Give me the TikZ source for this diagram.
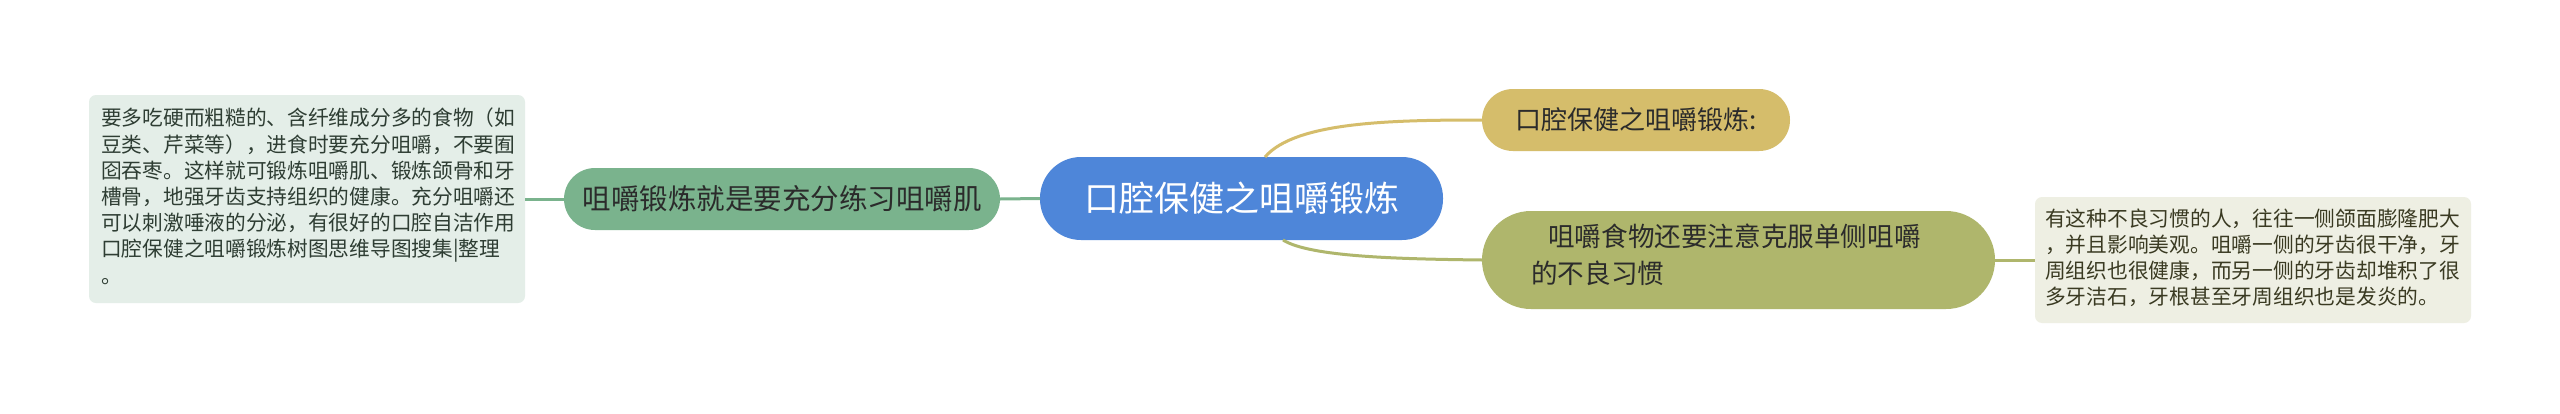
\documentclass[tikz,border=0pt]{standalone}
\usepackage{fontspec}
\setmainfont{Noto Sans CJK SC}
\definecolor{cblue}{HTML}{4E86D9}
\definecolor{cgold}{HTML}{D5BD6B}
\definecolor{colive}{HTML}{AFB66C}
\definecolor{cgreen}{HTML}{7AB38D}
\definecolor{cleft}{HTML}{E4EEE8}
\definecolor{cright}{HTML}{EEEFE3}
\definecolor{ctext}{HTML}{2B2B2B}
\definecolor{cltext}{HTML}{2E3D33}
\definecolor{crtext}{HTML}{3A3A22}
\tikzset{
  pill/.style={rounded corners=#1, inner sep=0pt, outer sep=0pt, text=ctext},
  notebox/.style={rounded corners=7pt, inner sep=0pt, outer sep=0pt, align=left, anchor=north west},
  link/.style={line width=3pt}
}
\begin{document}
\begin{tikzpicture}[x=1pt,y=-1pt]
\useasboundingbox (0,0) rectangle (2560,413);
\fill[white] (0,0) rectangle (2560,413);
% central
\node[pill=41pt, fill=cblue, text=white, minimum width=403pt, minimum height=83pt, font=\fontsize{35}{40}\selectfont] (c) at (1241.5,198.5) {口腔保健之咀嚼锻炼};
% top right
\node[pill=31pt, fill=cgold, minimum width=308pt, minimum height=62pt, font=\fontsize{26}{30}\selectfont] (t) at (1636,120) {口腔保健之咀嚼锻炼:};
% bottom right
\node[pill=49pt, fill=colive, minimum width=513pt, minimum height=98pt] (b) at (1738.5,260) {};
\node[anchor=north west, inner sep=0pt, align=left, text=ctext, font=\fontsize{26.6}{37}\selectfont] (bt) at (1531,224) {\hspace*{17pt}咀嚼食物还要注意克服单侧咀嚼\\的不良习惯};
% left green
\node[pill=31pt, fill=cgreen, minimum width=436pt, minimum height=62pt, font=\fontsize{28.5}{32}\selectfont] (g) at (782,199) {咀嚼锻炼就是要充分练习咀嚼肌};
% left note
\node[notebox, fill=cleft, minimum width=436pt, minimum height=208pt] (ln) at (89,95) {};
\node[anchor=north west, inner sep=0pt, align=left, text=cltext, font=\fontsize{20.7}{26.2}\selectfont] (lt) at (101,108) {要多吃硬而粗糙的、含纤维成分多的食物（如\\豆类、芹菜等），进食时要充分咀嚼，不要囿\\囵吞枣。这样就可锻炼咀嚼肌、锻炼颌骨和牙\\槽骨，地强牙齿支持组织的健康。充分咀嚼还\\可以刺激唾液的分泌，有很好的口腔自洁作用\\口腔保健之咀嚼锻炼树图思维导图搜集|整理\\。};
% right note
\node[notebox, fill=cright, minimum width=436pt, minimum height=126pt] (rn) at (2035,197) {};
\node[anchor=north west, inner sep=0pt, align=left, text=crtext, font=\fontsize{20.75}{26}\selectfont] (rt) at (2045,209) {有这种不良习惯的人，往往一侧颌面膨隆肥大\\，并且影响美观。咀嚼一侧的牙齿很干净，牙\\周组织也很健康，而另一侧的牙齿却堆积了很\\多牙洁石，牙根甚至牙周组织也是发炎的。};
% connectors
\draw[link, cgreen] (c.west) -- (g.east);
\draw[link, cgreen] (g.west) -- (ln.east |- g.west);
\draw[link, colive] (b.east) -- (rn.west |- b.east);
\draw[link, cgold] ([xshift=23.5pt]c.north) .. controls (1295,122) and (1390,120) .. (t.west);
\draw[link, colive] ([xshift=41.5pt]c.south) .. controls (1310,257) and (1400,259) .. (b.west);
\end{tikzpicture}
\end{document}
